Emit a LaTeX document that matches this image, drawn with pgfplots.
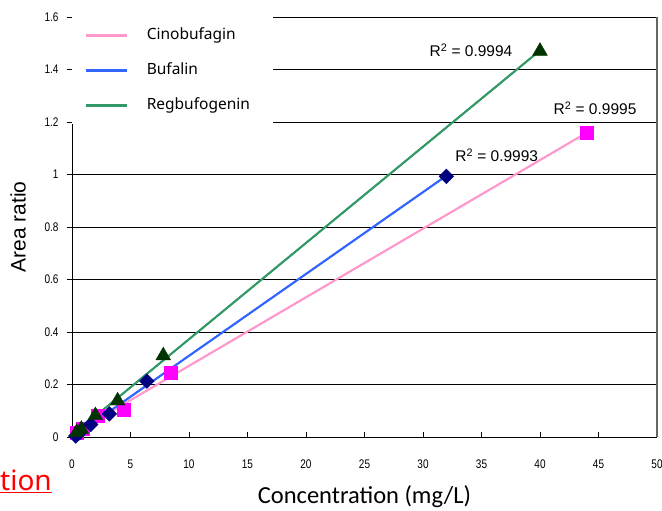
\documentclass[border=0pt]{standalone}
\usepackage{pgfplots}
\pgfplotsset{compat=1.18}
\usepackage{pgfplotstable}
\usepackage{fontspec}
\setmainfont{Liberation Sans}
\newfontfamily\narrowfont[FakeStretch=0.8]{Liberation Sans}
\newfontfamily\legfont{Noto Sans}
\newfontfamily\calfont{Carlito}

\definecolor{cinoline}{HTML}{FF99CC}
\definecolor{cinomark}{HTML}{FF00FF}
\definecolor{bufline}{HTML}{3366FF}
\definecolor{bufmark}{HTML}{000080}
\definecolor{regline}{HTML}{339966}
\definecolor{regmark}{HTML}{003300}

% concentration (mg/L) vs area ratio
\pgfplotstableread{
x y
0.44 0.018
0.88 0.030
2.2 0.080
4.4 0.103
8.4 0.245
44 1.158
}\cino
\pgfplotstableread{
x y
0.32 0.004
0.64 0.016
1.6 0.048
3.2 0.088
6.4 0.213
32 0.993
}\buf
\pgfplotstableread{
x y
0.4 0.018
0.8 0.030
2.0 0.082
3.9 0.138
7.8 0.310
40 1.470
}\reg

\begin{document}
\begin{tikzpicture}[x=1pt,y=1pt]
\begin{axis}[
  at={(72pt,74pt)}, anchor=south west,
  scale only axis,
  width=585pt, height=420pt,
  xmin=0, xmax=50, ymin=0, ymax=1.6,
  xtick={0,5,...,50},
  ytick={0,0.2,...,1.6},
  axis x line*=bottom, axis y line*=left,
  axis line style={black, line width=0.9pt},
  xtick align=inside, ytick align=outside,
  major tick length=5pt,
  tick style={black, line width=0.7pt},
  ymajorgrids,
  grid style={black, line width=0.8pt},
  /pgf/number format/assume math mode=true,
  tick label style={font=\narrowfont\fontsize{12.5}{14}\selectfont},
  xticklabel style={yshift=-19pt},
  yticklabel style={xshift=-5pt},
  xlabel={\calfont\fontsize{24.5}{28}\selectfont Concentration (mg/L)},
  ylabel={\fontsize{21}{25}\selectfont Area ratio},
  xlabel style={at={(0.5,-0.143)}, anchor=center, inner sep=1pt},
  ylabel style={at={(-0.092,0.5)}, anchor=center},
  legend cell align=left,
  legend style={
    at={(rel axis cs:0,1)}, anchor=north west,
    draw=none, fill=white,
    inner xsep=12pt, inner ysep=11pt,
    font=\legfont\fontsize{15.5}{18}\selectfont,
    row sep=20pt,
    nodes={inner sep=0pt, text height=11pt, text depth=4pt},
    /tikz/every odd column/.append style={column sep=19pt},
    /tikz/every even column/.append style={text width=114pt},
  },
  legend image code/.code={\draw[#1, line width=2.6pt] (0pt,0pt) -- (41pt,0pt);},
  clip=false,
]
% trend lines (least squares)
\addplot[cinoline, line width=1.9pt, no marks]
  table[x=x, y={create col/linear regression={y=y}}] {\cino};
\addlegendentry{Cinobufagin}
\addplot[bufline, line width=1.9pt, no marks]
  table[x=x, y={create col/linear regression={y=y}}] {\buf};
\addlegendentry{Bufalin}
\addplot[regline, line width=1.9pt, no marks]
  table[x=x, y={create col/linear regression={y=y}}] {\reg};
\addlegendentry{Regbufogenin}

% data points
\addplot[only marks, mark=square*, mark size=6.5pt, cinomark,
  mark options={draw=cinomark, fill=cinomark}, forget plot] table[x=x,y=y] {\cino};
\addplot[only marks, mark=square*, mark size=5.2pt, bufmark,
  mark options={draw=bufmark, fill=bufmark, rotate=45}, forget plot] table[x=x,y=y] {\buf};
\addplot[only marks, mark=triangle*, mark size=8.5pt, regmark,
  mark options={draw=regmark, fill=regmark}, forget plot] table[x=x,y=y] {\reg};

% redraw trend lines over marks
\addplot[cinoline, line width=1.9pt, no marks, forget plot]
  table[x=x, y={create col/linear regression={y=y}}] {\cino};
\addplot[bufline, line width=1.9pt, no marks, forget plot]
  table[x=x, y={create col/linear regression={y=y}}] {\buf};
\addplot[regline, line width=1.9pt, no marks, forget plot]
  table[x=x, y={create col/linear regression={y=y}}] {\reg};

\draw[gray!80!black, line width=1.8pt] (rel axis cs:1,0) -- (rel axis cs:1,1);

\node[font=\fontsize{15.5}{18}\selectfont] at (axis cs:34.1,1.474) {R\textsuperscript{2} = 0.9994};
\node[font=\fontsize{15.5}{18}\selectfont] at (axis cs:44.7,1.253) {R\textsuperscript{2} = 0.9995};
\node[font=\fontsize{15.5}{18}\selectfont] at (axis cs:36.3,1.074) {R\textsuperscript{2} = 0.9993};
\end{axis}
\node[anchor=base west, inner sep=0pt, text=red, font=\legfont\bfseries\fontsize{28}{32}\selectfont]
  at (0pt,20pt) {\underline{tion}};
\pgfresetboundingbox
\path (0pt,0pt) rectangle (662pt,511pt);
\end{tikzpicture}
\end{document}
